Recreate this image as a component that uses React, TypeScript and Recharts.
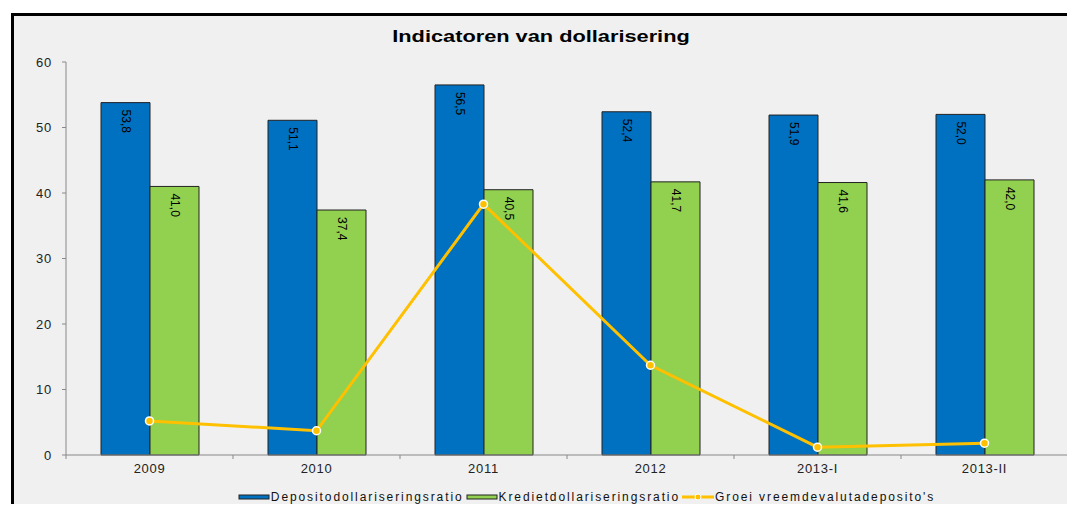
import React from "react";
import {
  ComposedChart,
  Bar,
  Line,
  XAxis,
  YAxis,
  Legend,
  LabelList,
} from "recharts";

const categories = ["2009", "2010", "2011", "2012", "2013-I", "2013-II"];
const depositoRatio = [53.8, 51.1, 56.5, 52.4, 51.9, 52.0];
const kredietRatio = [41.0, 37.4, 40.5, 41.7, 41.6, 42.0];
const groeiDeposito = [5.2, 3.7, 38.3, 13.7, 1.2, 1.8];
const yTicks = [0, 10, 20, 30, 40, 50, 60];

const data = categories.map((c, i) => ({
  jaar: c,
  deposito: depositoRatio[i],
  krediet: kredietRatio[i],
  groei: groeiDeposito[i],
}));

const BLUE = "#0070C0";
const GREEN = "#92D050";
const GOLD = "#FFC000";
const FONT = "Arial, 'Liberation Sans', sans-serif";

const fmt = (v: number) => v.toFixed(1).replace(".", ",");

function VerticalLabel(props: any) {
  const { x, y, width, value } = props;
  const cx = x + width / 2;
  const cy = y + 7;
  return (
    <text
      x={cx}
      y={cy}
      transform={`rotate(90 ${cx} ${cy})`}
      textAnchor="start"
      dominantBaseline="central"
      fontSize={12}
      fontFamily={FONT}
      fill="#000"
    >
      {fmt(value)}
    </text>
  );
}

function CategoryTick(props: any) {
  const { x, y, payload, index } = props;
  const half = payload?.offset || 83.5;
  return (
    <g>
      <line x1={x - half} y1={y - 8} x2={x - half} y2={y - 4} stroke="#888" />
      {index === categories.length - 1 && (
        <line x1={x + half} y1={y - 8} x2={x + half} y2={y - 4} stroke="#888" />
      )}
      <text x={x} y={y + 10} textAnchor="middle" fontSize={13} letterSpacing={0.7} fontFamily={FONT} fill="#222">
        {payload.value}
      </text>
    </g>
  );
}

function LegendContent() {
  const items = [
    { label: "Depositodollariseringsratio", color: BLUE, kind: "bar" },
    { label: "Kredietdollariseringsratio", color: GREEN, kind: "bar" },
    { label: "Groei vreemdevalutadeposito's", color: GOLD, kind: "line" },
  ];
  return (
    <div style={{ display: "flex", justifyContent: "center", fontFamily: FONT, fontSize: 12, color: "#111", letterSpacing: 1.9 }}>
      {items.map((it) => (
        <span key={it.label} style={{ display: "inline-flex", alignItems: "center", marginRight: 2 }}>
          <svg width={32} height={10} style={{ marginRight: 1 }}>
            {it.kind === "bar" ? (
              <rect x={1} y={3} width={30} height={4} fill={it.color} stroke="#222" strokeWidth={1} />
            ) : (
              <>
                <line x1={0} y1={5} x2={32} y2={5} stroke={it.color} strokeWidth={3} />
                <circle cx={16} cy={5} r={3} fill={it.color} stroke="#fff" strokeWidth={1} />
              </>
            )}
          </svg>
          {it.label}
        </span>
      ))}
    </div>
  );
}

export default function App() {
  return (
    <div style={{ position: "relative", width: 1075, height: 512, margin: -8, background: "#fff", overflow: "hidden" }}>
      <div
        style={{
          position: "absolute",
          left: 11,
          top: 13,
          width: 1075,
          height: 520,
          background: "#F0F0F0",
          borderLeft: "3px solid #000",
          borderTop: "3px solid #000",
        }}
      />
      <div
        style={{
          position: "absolute",
          left: 0,
          width: 1082,
          top: 28,
          textAlign: "center",
          fontFamily: FONT,
          fontWeight: "bold",
          fontSize: 16,
          color: "#000",
          transform: "scaleX(1.36)",
          transformOrigin: "541px 0",
        }}
      >
        Indicatoren van dollarisering
      </div>
      <div style={{ position: "absolute", left: 0, top: 0 }}>
        <ComposedChart
          width={1075}
          height={512}
          data={data}
          margin={{ top: 62, right: 7, bottom: 27, left: 0 }}
          barGap={0}
          barCategoryGap={35}
        >
          <XAxis
            dataKey="jaar"
            height={30}
            stroke="#888"
            tickLine={false}
            tick={<CategoryTick />}
            interval={0}
          />
          <YAxis
            width={66}
            domain={[0, 60]}
            ticks={yTicks}
            stroke="#888"
            tickSize={4}
            tickMargin={10}
            tick={{ fontSize: 13, fontFamily: FONT, fill: "#222", letterSpacing: 0.8 }}
          />
          <Legend
            verticalAlign="middle"
            content={<LegendContent />}
            wrapperStyle={{ top: 490, left: 0, width: 1075, paddingLeft: 50 }}
          />
          <Bar dataKey="deposito" name="Depositodollariseringsratio" fill={BLUE} stroke="#222" strokeWidth={1} isAnimationActive={false}>
            <LabelList dataKey="deposito" content={<VerticalLabel />} />
          </Bar>
          <Bar dataKey="krediet" name="Kredietdollariseringsratio" fill={GREEN} stroke="#222" strokeWidth={1} isAnimationActive={false}>
            <LabelList dataKey="krediet" content={<VerticalLabel />} />
          </Bar>
          <Line
            dataKey="groei"
            name="Groei vreemdevalutadeposito's"
            stroke={GOLD}
            strokeWidth={3}
            dot={{ r: 4, fill: GOLD, stroke: "#fff", strokeWidth: 1.5 }}
            isAnimationActive={false}
          />
        </ComposedChart>
      </div>
    </div>
  );
}
